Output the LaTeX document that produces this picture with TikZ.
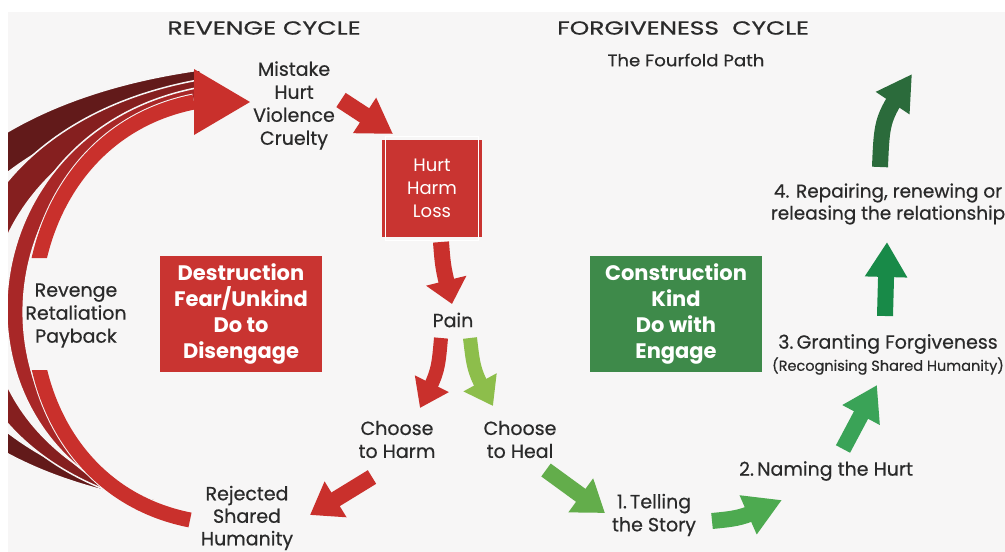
\documentclass[tikz,border=0pt]{standalone}
\usepackage{fontspec}
\usepackage{graphicx}
\setmainfont{Poppins}[FakeBold=0.5]
\newfontfamily\plainfont{Poppins}
\usetikzlibrary{arrows.meta,bending}
\definecolor{bg}{HTML}{F7F6F6}
\definecolor{txtc}{HTML}{2A2A2A}
\definecolor{rred}{HTML}{C9302C}
\definecolor{rib1}{HTML}{A82727}
\definecolor{rib2}{HTML}{851F1F}
\definecolor{rib3}{HTML}{621A1A}
\definecolor{boxred}{HTML}{C93431}
\definecolor{boxgreen}{HTML}{3E8A4A}
\definecolor{glight}{HTML}{8DBE4B}
\definecolor{gone}{HTML}{63AD4B}
\definecolor{gtwo}{HTML}{4DAA50}
\definecolor{gthree}{HTML}{3AA357}
\definecolor{gfour}{HTML}{188A48}
\definecolor{gfive}{HTML}{2B6B3B}
\tikzset{
  txt/.style={text=txtc, align=center, inner sep=0pt, font=\fontsize{19}{23}\selectfont},
  boxtxt/.style={text=white, align=center, inner sep=0pt, font=\plainfont\bfseries\fontsize{21}{25.7}\selectfont},
  ttl/.style={text=txtc, inner sep=0pt, font=\fontsize{19}{22}\selectfont},
  barrow/.style n args={4}{draw=#1, line width=#2, -{Triangle[length=#3,width=#4,flex]}},
  ribbon/.style={line width=15pt},
  ribsep/.style={line width=17pt, draw=bg},
  ribfill/.style={fill=#1, draw=bg, line width=1.5pt},
}
\begin{document}
\begin{tikzpicture}[x=1pt,y=-1pt]
\useasboundingbox (0,0) rectangle (1005,552);
\fill[white] (0,0) rectangle (1005,552);
\fill[bg] (8,12) rectangle (1005,552);

% big revenge arc ribbons
\begin{scope}
\clip (8,12) rectangle (1005,552);
\path[ribfill=rib3] (200,70) .. controls (-195,125) and (-212,452) .. (175,504)
   .. controls (-160,430) and (-140,155) .. (200,96) -- cycle;
\path[ribfill=rib2] (198,80) .. controls (-108,136) and (-122,460) .. (183,511)
   .. controls (-86,446) and (-66,158) .. (198,100) -- cycle;
\path[ribfill=rib1] (196,88) .. controls (-50,137) and (-60,472) .. (188,516)
   .. controls (-38,462) and (-28,149) .. (196,104) -- cycle;
\begin{scope}
\clip (0,0) rectangle (1005,258) (0,370) rectangle (1005,552);
\draw[ribsep] (194,102) .. controls (-18,144) and (-22,478) .. (190,520);
\draw[ribbon, rred] (194,102) .. controls (-18,144) and (-22,478) .. (190,520);
\end{scope}
\end{scope}
\fill[rred] (194,69) -- (250,102) -- (194,135) -- cycle;

% titles
\node[ttl] (t1) at (264,28) {\scalebox{1.33}[1]{REVENGE CYCLE}};
\node[ttl] (t2) at (683,28) {\scalebox{1.31}[1]{FORGIVENESS\ \ CYCLE}};
\node[txt, font=\fontsize{16.5}{18}\selectfont] (t3) at (686,60) {\scalebox{1.1}[1]{The Fourfold Path}};

% revenge side
\node[txt] (mistake) at (294,105.5) {Mistake\\Hurt\\Violence\\Cruelty};
\node[fill=boxred, minimum width=100pt, minimum height=97pt, inner sep=0pt] (hurt) at (432,188.5) {};
\draw[white, line width=1.2pt] ([shift={(3.5,-3.5)}]hurt.north west) rectangle ([shift={(-3.5,3.5)}]hurt.south east);
\node[txt, text=white, font=\plainfont\fontsize{18}{23}\selectfont] (hurttxt) at (hurt.center) {Hurt\\Harm\\Loss};
\node[txt] (pain) at (453,320) {Pain};
\node[txt] (harm) at (397,439.5) {Choose\\to Harm};
\node[txt] (heal) at (520,439.5) {Choose\\to Heal};
\node[txt, font=\fontsize{19}{22.5}\selectfont] (rejected) at (247,518) {Rejected\\Shared\\Humanity};
\node[txt] (revenge) at (76,315.5) {Revenge\\Retaliation\\Payback};
\node[fill=boxred, minimum width=162pt, minimum height=116pt, inner sep=0pt] (destr) at (241,314) {};
\node[boxtxt] (destrtxt) at (destr.center) {Destruction\\Fear/Unkind\\Do to\\Disengage};

% forgiveness side
\node[fill=boxgreen, minimum width=172pt, minimum height=116pt, inner sep=0pt] (constr) at (676,314) {};
\node[boxtxt] (constrtxt) at (constr.center) {Construction\\Kind\\Do with\\Engage};
\node[txt] (telling) at (654,515) {1.\,Telling\\the Story};
\node[txt] (naming) at (826,471) {2.\,Naming the Hurt};
\node[txt] (granting) at (888,344) {3.\,Granting Forgiveness};
\node[txt, font=\fontsize{14.5}{16}\selectfont] (recog) at (888,366) {(Recognising Shared Humanity)};
\node[txt, font=\fontsize{18.5}{22}\selectfont] (repair) at (888,204) {4. Repairing, renewing or\\releasing the relationship};

% connector coordinates
\coordinate (a1s) at (341,100); \coordinate (a1e) at (393,134);
\coordinate (a2s) at (441,242); \coordinate (a2e) at (452,304);
\coordinate (a3s) at (441,338); \coordinate (a3e) at (420,408);
\coordinate (a4s) at (470,338); \coordinate (a4e) at (493,406);
\coordinate (a5s) at (372,477); \coordinate (a5e) at (310,515);
\coordinate (a6s) at (546,470); \coordinate (a6e) at (605,513);
\coordinate (a7s) at (712,521); \coordinate (a7e) at (782,500);
\coordinate (a8s) at (843,449); \coordinate (a8e) at (877,385);
\coordinate (a9s) at (885,316); \coordinate (a9e) at (887,242);
\coordinate (a10s) at (880,167); \coordinate (a10e) at (912,74);

\draw[barrow={rred}{17pt}{34pt}{40pt}] (a1s) -- (a1e);
\draw[barrow={rred}{16pt}{24pt}{40pt}] (a2s) .. controls (443,268) .. (a2e);
\draw[barrow={rred}{14pt}{27pt}{36pt}] (a3s) .. controls (438,372) .. (a3e);
\draw[barrow={glight}{14pt}{27pt}{36pt}] (a4s) .. controls (474,372) .. (a4e);
\draw[barrow={rred}{16pt}{30pt}{40pt}] (a5s) -- (a5e);
\draw[barrow={gone}{16pt}{30pt}{40pt}] (a6s) -- (a6e);
\draw[barrow={gtwo}{16pt}{37pt}{40pt}] (a7s) .. controls (742,518) .. (a7e);
\draw[barrow={gthree}{16pt}{34pt}{40pt}] (a8s) -- (a8e);
\draw[barrow={gfour}{16pt}{35pt}{40pt}] (a9s) -- (a9e);
\draw[barrow={gfive}{16pt}{35pt}{38pt}] (a10s) .. controls (882,118) .. (a10e);
\end{tikzpicture}
\end{document}
